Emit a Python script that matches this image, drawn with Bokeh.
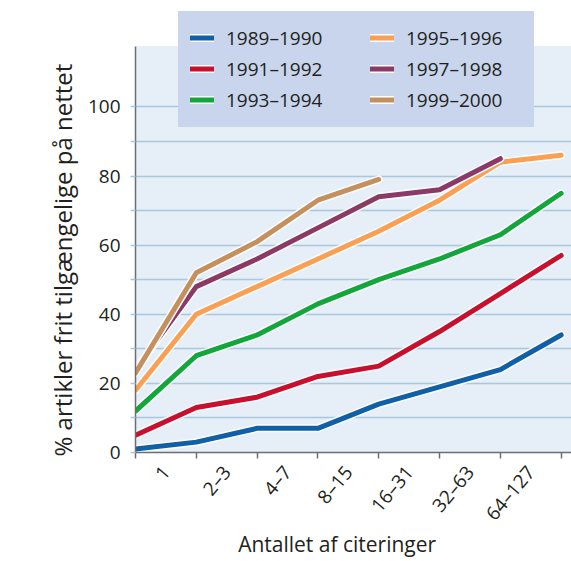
from bokeh.plotting import figure
from bokeh.models import (Range1d, FixedTicker, Legend, LegendItem,
                          ColumnDataSource, BoxAnnotation)
from bokeh.embed import file_html
from bokeh.resources import INLINE

# ---- data ----
categories = ["1", "2–3", "4–7", "8–15", "16–31", "32–63", "64–127"]
series_names = ["1989–1990", "1991–1992", "1993–1994",
                "1995–1996", "1997–1998", "1999–2000"]
s1989 = [1, 3, 7, 7, 14, 19, 24, 34]
s1991 = [5, 13, 16, 22, 25, 35, 46, 57]
s1993 = [12, 28, 34, 43, 50, 56, 63, 75]
s1995 = [18, 40, 48, 56, 64, 73, 84, 86]
s1997 = [24, 48, 56, 65, 74, 76, 85]
s1999 = [23, 52, 61, 73, 79]
colors = ["#1060a8", "#c8102e", "#12a63c", "#f9a054", "#8b3a68", "#c4915e"]
y_ticks = [0, 20, 40, 60, 80, 100]
y_minor = [10, 30, 50, 70, 90]
grid_lines = [10, 20, 30, 40, 50, 60, 70, 80, 90, 100]
y_axis_top = 117.6      # top of the shaded plot area
y_view_top = 127.6      # extra headroom so the legend can sit above the plot area

FONT = "Open Sans"
TXT = "#231f20"
LEG_BG = "#c8d5ec"
NB = "\u00a0"

p = figure(width=571, height=561, output_backend="svg", toolbar_location=None,
           x_range=Range1d(0, 7.17), y_range=Range1d(0, y_view_top),
           min_border_left=135, min_border_right=0, min_border_top=11,
           min_border_bottom=109)
p.background_fill_color = "white"
p.border_fill_color = "white"
p.outline_line_color = None

# light-blue plot area (up to the top of the y axis)
p.add_layout(BoxAnnotation(top=y_axis_top, fill_color="#e6eef8", fill_alpha=1.0,
                           line_color=None, level="image"))

# grid
p.xgrid.visible = False
p.ygrid.ticker = FixedTicker(ticks=grid_lines)
p.ygrid.grid_line_color = "#a9c8dc"
p.ygrid.grid_line_width = 1.5

# x axis: labels between tick marks
xax = p.xaxis[0]
xax.ticker = FixedTicker(ticks=[i + 0.5 for i in range(len(categories))],
                         minor_ticks=list(range(len(categories) + 1)))
xax.major_label_overrides = {i + 0.5: c for i, c in enumerate(categories)}
xax.major_tick_out = 0
xax.major_tick_in = 0
xax.minor_tick_out = 6
xax.minor_tick_in = 0
xax.minor_tick_line_color = "#6d6e71"
xax.minor_tick_line_width = 1.5
xax.axis_line_color = "#6d6e71"
xax.axis_line_width = 1.5
xax.major_label_orientation = 0.87
xax.major_label_standoff = 10
xax.major_label_text_font = FONT
xax.major_label_text_font_size = "19px"
xax.major_label_text_color = TXT
xax.axis_label = "Antallet af citeringer" + NB * 6
xax.axis_label_text_font = FONT
xax.axis_label_text_font_size = "21px"
xax.axis_label_text_font_style = "normal"
xax.axis_label_text_color = TXT
xax.axis_label_standoff = -7

# y axis
yax = p.yaxis[0]
yax.bounds = (0, y_axis_top)
yax.ticker = FixedTicker(ticks=y_ticks, minor_ticks=y_minor)
yax.major_tick_out = 5
yax.major_tick_in = 0
yax.minor_tick_out = 5
yax.minor_tick_in = 0
yax.major_tick_line_color = "#a9c8dc"
yax.minor_tick_line_color = "#a9c8dc"
yax.major_tick_line_width = 1.5
yax.minor_tick_line_width = 1.5
yax.axis_line_color = "#6d6e71"
yax.axis_line_width = 1.5
yax.major_label_standoff = 10
yax.major_label_text_font = FONT
yax.major_label_text_font_size = "19px"
yax.major_label_text_color = TXT
yax.axis_label = "% artikler frit tilgængelige på nettet" + NB * 9
yax.axis_label_text_font = FONT
yax.axis_label_text_font_size = "24px"
yax.axis_label_text_font_style = "normal"
yax.axis_label_text_color = TXT
yax.axis_label_standoff = 6

# lines
items = []
for name, ys, col in zip(series_names, [s1989, s1991, s1993, s1995, s1997, s1999], colors):
    src = ColumnDataSource(dict(x=list(range(len(ys))), y=ys))
    halo = p.line("x", "y", source=src, line_color="white", line_width=8,
                  line_cap="round", line_join="round")
    ln = p.line("x", "y", source=src, line_color=col, line_width=5,
                line_cap="round", line_join="round")
    items.append(LegendItem(label=name, renderers=[halo, ln]))

leg_style = dict(orientation="vertical", background_fill_color=LEG_BG,
                 background_fill_alpha=1.0, border_line_color=LEG_BG,
                 border_line_width=1, padding=11, spacing=0,
                 glyph_width=24, glyph_height=31, label_height=31,
                 label_standoff=12, label_text_font=FONT,
                 label_text_font_size="19px", label_text_color=TXT, margin=0)
legend_a = Legend(items=items[:3], location=(43, 325), label_width=122, **leg_style)
legend_b = Legend(items=items[3:], location=(223, 325), label_width=116, **leg_style)
p.add_layout(legend_a, "center")
p.add_layout(legend_b, "center")

open("out.html", "w").write(file_html(p, INLINE))
